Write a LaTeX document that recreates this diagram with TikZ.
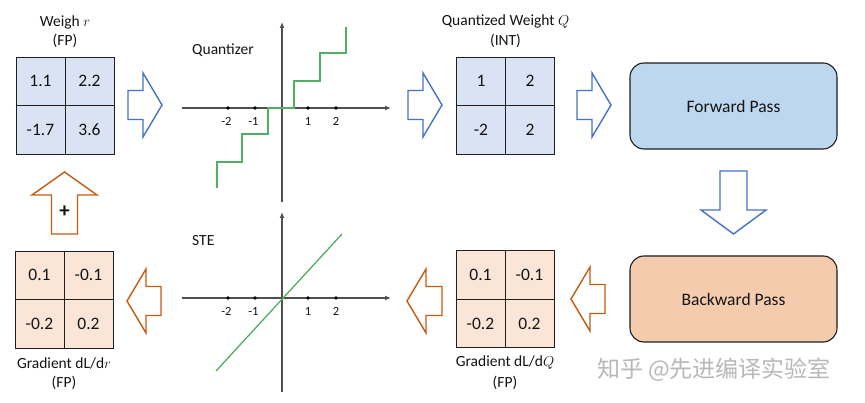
\documentclass[tikz,border=0pt]{standalone}
\usepackage{fontspec}
\setmainfont{Carlito}
\newfontfamily\cjk{Noto Sans CJK SC}
\usetikzlibrary{arrows.meta}
\definecolor{bluearrow}{HTML}{4472C4}
\definecolor{orangearrow}{HTML}{C55A11}
\definecolor{bluefill}{HTML}{DAE3F3}
\definecolor{orangefill}{HTML}{FBE5D6}
\definecolor{fwdfill}{HTML}{BDD7EE}
\definecolor{bwdfill}{HTML}{F5CBAE}
\definecolor{boxline}{HTML}{1E1E1E}
\definecolor{axisgray}{HTML}{505050}
\definecolor{plotgreen}{HTML}{4FAF62}
\definecolor{txt}{HTML}{141414}
\definecolor{wmark}{HTML}{B8B8B8}
\tikzset{
  pics/barrow/.style n args={4}{code={
    \draw[pic actions] (0,-#4) -- ({#1-#2},-#4) -- ({#1-#2},-#3) -- (#1,0)
      -- ({#1-#2},#3) -- ({#1-#2},#4) -- (0,#4) -- cycle;}},
  bluearr/.style={draw=bluearrow, line width=1.4pt, line join=miter},
  orangearr/.style={draw=orangearrow, line width=1.4pt, line join=miter},
  matbox/.style={draw=boxline, line width=0.9pt, minimum width=98pt, minimum height=97pt, inner sep=0pt},
  matline/.style={draw=boxline, line width=0.9pt},
  cell/.style={font=\fontsize{17.5}{20}\selectfont, text=txt, inner sep=0pt},
  title/.style={font=\fontsize{15.5}{18}\selectfont, text=txt, inner sep=0pt},
  passbox/.style={draw=boxline, line width=1.1pt, rounded corners=14pt, minimum width=207pt, minimum height=86pt, font=\fontsize{17.5}{20}\selectfont, text=txt},
  axis/.style={draw=axisgray, line width=1.3pt, -{Latex[length=6pt,width=5pt]}},
  tickdot/.style={circle, fill=black, inner sep=0pt, minimum size=3.6pt},
  ticklab/.style={font=\fontsize{12.5}{14}\selectfont, text=txt, inner sep=0pt},
  curve/.style={draw=plotgreen, line width=1.5pt},
  plotlab/.style={font=\fontsize{15.5}{18}\selectfont, text=txt, inner sep=0pt, anchor=west},
}
\begin{document}
\begin{tikzpicture}[x=1pt,y=-1pt]
\useasboundingbox (0,0) rectangle (865,403);
\fill[white] (0,0) rectangle (865,403);

% ---- Weight r matrix
\node[title] (wrt1) at (65,22) {Weigh $r$};
\node[title] (wrt2) at (65,41) {(FP)};
\node[matbox, fill=bluefill] (wr) at (65,105.5) {};
\draw[matline] (wr.north) -- (wr.south) (wr.west) -- (wr.east);
\node[cell] (wr11) at (40.5,81) {1.1};
\node[cell] (wr12) at (89.5,81) {2.2};
\node[cell] (wr21) at (40.5,130) {-1.7};
\node[cell] (wr22) at (89.5,130) {3.6};

% ---- Quantized Weight matrix
\node[title] (qt1) at (505.5,22) {Quantized Weight $Q$};
\node[title] (qt2) at (505.5,41) {(INT)};
\node[matbox, fill=bluefill] (qw) at (505.5,105.5) {};
\draw[matline] (qw.north) -- (qw.south) (qw.west) -- (qw.east);
\node[cell] (qw11) at (481,81) {1};
\node[cell] (qw12) at (530,81) {2};
\node[cell] (qw21) at (481,130) {-2};
\node[cell] (qw22) at (530,130) {2};

% ---- Gradient dL/dr matrix
\node[matbox, fill=orangefill] (gr) at (64,299.5) {};
\draw[matline] (gr.north) -- (gr.south) (gr.west) -- (gr.east);
\node[cell] (gr11) at (39.5,275) {0.1};
\node[cell] (gr12) at (88.5,275) {-0.1};
\node[cell] (gr21) at (39.5,324) {-0.2};
\node[cell] (gr22) at (88.5,324) {0.2};
\node[title] (grt1) at (64,363) {Gradient dL/d$r$};
\node[title] (grt2) at (64,383) {(FP)};

% ---- Gradient dL/dQ matrix
\node[matbox, fill=orangefill] (gq) at (505,299) {};
\draw[matline] (gq.north) -- (gq.south) (gq.west) -- (gq.east);
\node[cell] (gq11) at (480.5,274.5) {0.1};
\node[cell] (gq12) at (529.5,274.5) {-0.1};
\node[cell] (gq21) at (480.5,323.5) {-0.2};
\node[cell] (gq22) at (529.5,323.5) {0.2};
\node[title] (gqt1) at (505,363) {Gradient dL/d$Q$};
\node[title] (gqt2) at (505,383) {(FP)};

% ---- Pass boxes
\node[passbox, fill=fwdfill] (fwd) at (733.5,106) {Forward Pass};
\node[passbox, fill=bwdfill] (bwd) at (733.5,299) {Backward Pass};

% ---- Block arrows
\pic[bluearr] (a1) at (128,105) {barrow={34}{19}{32}{14.5}};
\pic[bluearr] (a2) at (408,105) {barrow={34}{19}{32}{14.5}};
\pic[bluearr] (a3) at (577,105) {barrow={34}{19}{32}{14.5}};
\pic[bluearr, rotate=-90] (a4) at (733.5,171) {barrow={63}{24}{32.5}{13.5}};
\pic[orangearr, rotate=180] (a5) at (605,299) {barrow={34}{19}{32}{14.5}};
\pic[orangearr, rotate=180] (a6) at (442,301) {barrow={35}{19}{32}{14.5}};
\pic[orangearr, rotate=180] (a7) at (161,301) {barrow={34}{19}{32}{14.5}};
\pic[orangearr, rotate=90] (a8) at (64.5,234) {barrow={62}{23}{32.5}{13}};
\node[font=\bfseries\fontsize{21}{22}\selectfont, text=txt, inner sep=0pt] (plus) at (64.5,212) {+};

% ---- Quantizer plot
\coordinate (qo) at (282,108);
\coordinate (qxl) at (182,108);
\coordinate (qxr) at (391,108);
\coordinate (qyb) at (282,202);
\coordinate (qyt) at (282,22);
\draw[axis] (qxl) -- (qxr);
\draw[axis] (qyb) -- (qyt);
\node[tickdot] (qm2) at (228,108) {};
\node[tickdot] (qm1) at (255,108) {};
\node[tickdot] (qp1) at (308,108) {};
\node[tickdot] (qp2) at (336,108) {};
\node[ticklab] (lqm2) at (226.5,121) {-2};
\node[ticklab] (lqm1) at (253.5,121) {-1};
\node[ticklab] (lqp1) at (308,121) {1};
\node[ticklab] (lqp2) at (336,121) {2};
\draw[curve] (217,188) -- (217,162) -- (242,162) -- (242,134) -- (268,134) -- (268,108)
  -- (294,108) -- (294,81) -- (320,81) -- (320,53) -- (346,53) -- (346,27);
\node[plotlab] (qlab) at (192,50) {Quantizer};

% ---- STE plot
\coordinate (so) at (282,298);
\coordinate (sxl) at (182,298);
\coordinate (sxr) at (391,298);
\coordinate (syb) at (282,392);
\coordinate (syt) at (282,212);
\draw[axis] (sxl) -- (sxr);
\draw[axis] (syb) -- (syt);
\node[tickdot] (sm2) at (228,298) {};
\node[tickdot] (sm1) at (255,298) {};
\node[tickdot] (sp1) at (308,298) {};
\node[tickdot] (sp2) at (336,298) {};
\node[ticklab] (lsm2) at (226.5,311) {-2};
\node[ticklab] (lsm1) at (253.5,311) {-1};
\node[ticklab] (lsp1) at (308,311) {1};
\node[ticklab] (lsp2) at (336,311) {2};
\coordinate (ste1) at (216,371);
\coordinate (ste2) at (342,234);
\draw[curve, line width=1.3pt] (ste1) -- (ste2);
\node[plotlab] (slab) at (192,241) {STE};

% ---- watermark
\node[font=\cjk\fontsize{23}{26}\selectfont, text=wmark, inner sep=0pt] (wm) at (714,370) {知乎 @先进编译实验室};
\end{tikzpicture}
\end{document}
